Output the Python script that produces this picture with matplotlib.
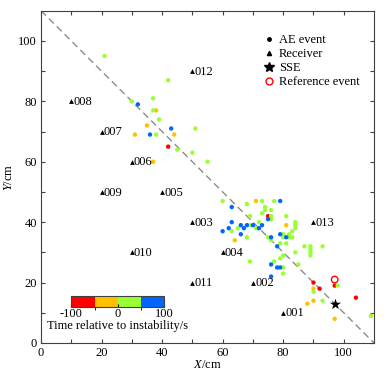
import matplotlib
matplotlib.use("Agg")
import matplotlib.pyplot as plt
from matplotlib.colors import ListedColormap, BoundaryNorm
from matplotlib.lines import Line2D
import matplotlib.cm as cm
import numpy as np

plt.rcParams['font.family'] = ['Liberation Serif', 'DejaVu Serif']
plt.rcParams['mathtext.fontset'] = 'custom'
plt.rcParams['mathtext.rm'] = 'Liberation Serif'
plt.rcParams['mathtext.it'] = 'Liberation Serif:italic'
plt.rcParams['axes.unicode_minus'] = False

# AE events grouped by time relative to instability (s)
red_x = [42, 75, 90, 92, 97, 104]
red_y = [65, 42, 20, 18, 19, 15]
red_t = -75

orange_x = [31, 35, 38, 44, 37, 71, 81, 64, 90, 88, 90, 97]
orange_y = [69, 72, 77, 69, 60, 47, 39, 34, 18, 13, 14, 8]
orange_t = -25

green_x = [21, 42, 30, 37, 37, 39, 38, 45, 50, 51, 55, 60, 68, 73, 77, 74, 74, 76, 73,
           76, 76, 81, 69, 72, 63, 65, 69, 71, 68, 75, 76, 80, 80, 82, 82, 83, 84, 84, 84,
           83, 79, 81, 87, 89, 89, 89, 89, 93, 84, 80, 79, 77, 69, 85, 80, 80, 90, 98, 93, 109]
green_y = [95, 87, 80, 81, 77, 74, 69, 64, 63, 71, 60, 47, 46, 47, 47, 45, 44, 44, 43,
           42, 41, 42, 42, 40, 37, 38, 39, 38, 35, 35, 34, 36, 35, 35, 36, 37, 40, 39, 38,
           35, 33, 33, 32, 32, 31, 30, 29, 32, 30, 29, 28, 27, 27, 26, 25, 23, 17, 19, 14, 9]
green_t = 25

blue_x = [32, 36, 43, 63, 79, 75, 63, 60, 62, 66, 67, 68, 70, 72, 73, 66, 76, 79, 81,
          78, 76, 78, 79, 76]
blue_y = [79, 69, 71, 45, 47, 41, 40, 37, 38, 39, 38, 39, 39, 38, 39, 36, 35, 36, 35,
          32, 26, 25, 25, 22]
blue_t = 75

receiver_names = ['001', '002', '003', '004', '005', '006', '007', '008', '009', '010',
                  '011', '012', '013']
receiver_x = [80, 70, 50, 60, 40, 30, 20, 10, 20, 30, 50, 50, 90]
receiver_y = [10, 20, 40, 30, 50, 60, 70, 80, 50, 30, 20, 90, 40]

sse_x, sse_y = [97], [13]
ref_x, ref_y = [97], [21]

bin_edges = [-100, -50, 0, 50, 100]
bin_colors = ['#ff0000', '#ffc000', '#99ff33', '#0066ff']

cmap = ListedColormap(bin_colors)
norm = BoundaryNorm(bin_edges, cmap.N)

fig = plt.figure(figsize=(3.88, 3.76), dpi=100)
ax = fig.add_axes([0.1057, 0.0878, 0.8583, 0.8837])

ax.plot([0, 110], [110, 0], color='#8c8c8c', lw=1.0, ls=(0, (5, 3)), zorder=1)

xs = red_x + orange_x + green_x + blue_x
ys = red_y + orange_y + green_y + blue_y
ts = [red_t] * len(red_x) + [orange_t] * len(orange_x) + [green_t] * len(green_x) + [blue_t] * len(blue_x)
ax.scatter(xs, ys, c=ts, cmap=cmap, norm=norm, s=10, linewidths=0, zorder=3)

ax.scatter(receiver_x, receiver_y, marker='^', s=12, color='black', linewidths=0, zorder=4)
for n, x, y in zip(receiver_names, receiver_x, receiver_y):
    ax.annotate(n, (x, y), xytext=(1.5, -0.5), textcoords='offset points',
                ha='left', va='center', fontsize=9)

ax.scatter(sse_x, sse_y, marker='*', s=70, color='black', linewidths=0, zorder=5)
ax.scatter(ref_x, ref_y, marker='o', s=22, facecolors='none', edgecolors='#ff0000',
           linewidths=1.0, zorder=5)

ax.set_xlim(0, 110)
ax.set_ylim(0, 110)
ax.set_xticks([0, 20, 40, 60, 80, 100])
ax.set_yticks([0, 20, 40, 60, 80, 100])
ax.set_xticks(np.arange(10, 110, 20), minor=True)
ax.set_yticks(np.arange(10, 110, 20), minor=True)
ax.tick_params(which='both', direction='in', top=True, right=True, length=3,
               width=0.8, labelsize=9, color='#404040', pad=3)
for s in ax.spines.values():
    s.set_color('#404040')
    s.set_linewidth(0.8)
ax.set_xlabel('$\\it{X}$/cm', fontsize=9, labelpad=0)
ax.set_ylabel('$\\it{Y}$/cm', fontsize=9, labelpad=2)

handles = [
    Line2D([], [], marker='o', ls='none', color='black', markersize=2.5),
    Line2D([], [], marker='^', ls='none', color='black', markersize=3),
    Line2D([], [], marker='*', ls='none', color='black', markersize=7),
    Line2D([], [], marker='o', ls='none', markerfacecolor='none', markeredgecolor='#ff0000',
           markersize=5, markeredgewidth=1.0),
]
labels = ['AE event', 'Receiver', 'SSE', 'Reference event']
ax.legend(handles, labels, loc='upper left', bbox_to_anchor=(0.64, 0.955), frameon=False,
          fontsize=9, handlelength=0.9, handletextpad=0.4, labelspacing=0.15,
          borderpad=0.2)

cax = ax.inset_axes([10, 12, 30.7, 3.6], transform=ax.transData)
sm = cm.ScalarMappable(norm=norm, cmap=cmap)
cb = fig.colorbar(sm, cax=cax, orientation='horizontal', ticks=[-100, 0, 100])
cb.ax.tick_params(labelsize=9, length=2, width=0.8, pad=1, direction='in')
cb.outline.set_linewidth(0.8)
cb.outline.set_edgecolor('#404040')
cb.set_label('Time relative to instability/s', fontsize=9, labelpad=0)

fig.savefig('out.png', dpi=100)
